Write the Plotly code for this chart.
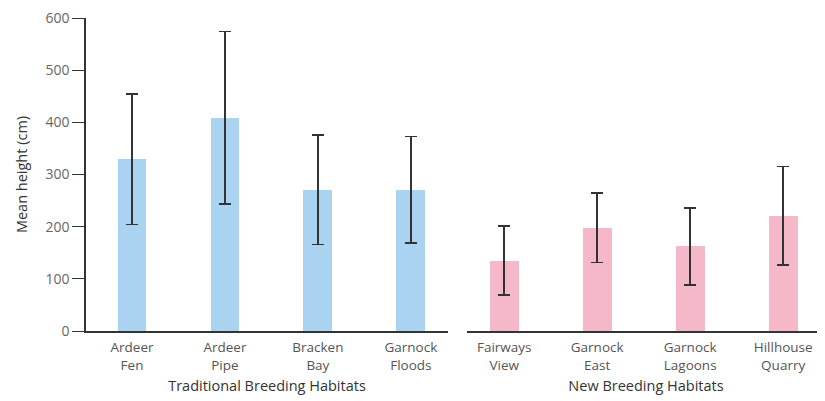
import plotly.graph_objects as go

trad_sites = ["Ardeer<br>Fen", "Ardeer<br>Pipe", "Bracken<br>Bay", "Garnock<br>Floods"]
trad_mean = [329, 409, 271, 271]
trad_err = [125, 165, 105, 102]

new_sites = ["Fairways<br>View", "Garnock<br>East", "Garnock<br>Lagoons", "Hillhouse<br>Quarry"]
new_mean = [135, 198, 162, 221]
new_err = [66, 67, 74, 94]

y_ticks = [0, 100, 200, 300, 400, 500, 600]

blue = "#a9d3f0"
pink = "#f5b8c9"
dark = "#333333"
font = "Open Sans"

W, H = 817, 393

fig = go.Figure()
fig.add_trace(go.Bar(
    x=list(range(len(trad_sites))), y=trad_mean, width=0.31,
    marker=dict(color=blue, line=dict(width=0)),
    error_y=dict(type="data", array=trad_err, color=dark, thickness=1.6, width=6),
    xaxis="x", yaxis="y", showlegend=False,
))
fig.add_trace(go.Bar(
    x=list(range(len(new_sites))), y=new_mean, width=0.31,
    marker=dict(color=pink, line=dict(width=0)),
    error_y=dict(type="data", array=new_err, color=dark, thickness=1.6, width=6),
    xaxis="x2", yaxis="y2", showlegend=False,
))

xcommon = dict(showline=True, linecolor=dark, linewidth=1.5, ticks="", showgrid=False,
               zeroline=False, automargin=False, ticklabelstandoff=3,
               tickfont=dict(family=font, size=13.5, color="#555"),
               title_font=dict(family=font, size=14.5, color="#333"), title_standoff=8)
fig.update_layout(
    width=W, height=H,
    margin=dict(l=0, r=0, t=10, b=H - 323),
    plot_bgcolor="white", paper_bgcolor="white",
    bargap=0,
    xaxis=dict(domain=[78/W, 440/W], range=[-0.495, 3.4],
               tickvals=list(range(len(trad_sites))), ticktext=trad_sites,
               title_text="Traditional Breeding Habitats", **xcommon),
    xaxis2=dict(domain=[459/W, 1.0], range=[-0.4, 3.45],
                tickvals=list(range(len(new_sites))), ticktext=new_sites,
                title_text="New Breeding Habitats", anchor="y2", **xcommon),
    yaxis=dict(range=[0, 600], tickvals=y_ticks, showline=True, linecolor=dark, linewidth=1.5,
               ticks="outside", ticklen=12, tickcolor=dark, tickwidth=1.3, showgrid=False,
               zeroline=False, automargin=False, ticklabeloverflow="allow",
               tickfont=dict(family=font, size=14, color="#666"),
               title_text="Mean height (cm)", title_font=dict(family=font, size=14.5, color="#333"),
               title_standoff=14),
    yaxis2=dict(range=[0, 600], anchor="x2", showticklabels=False, showline=False,
                showgrid=False, zeroline=False, ticks="", automargin=False),
)

fig.write_html("out.html")
